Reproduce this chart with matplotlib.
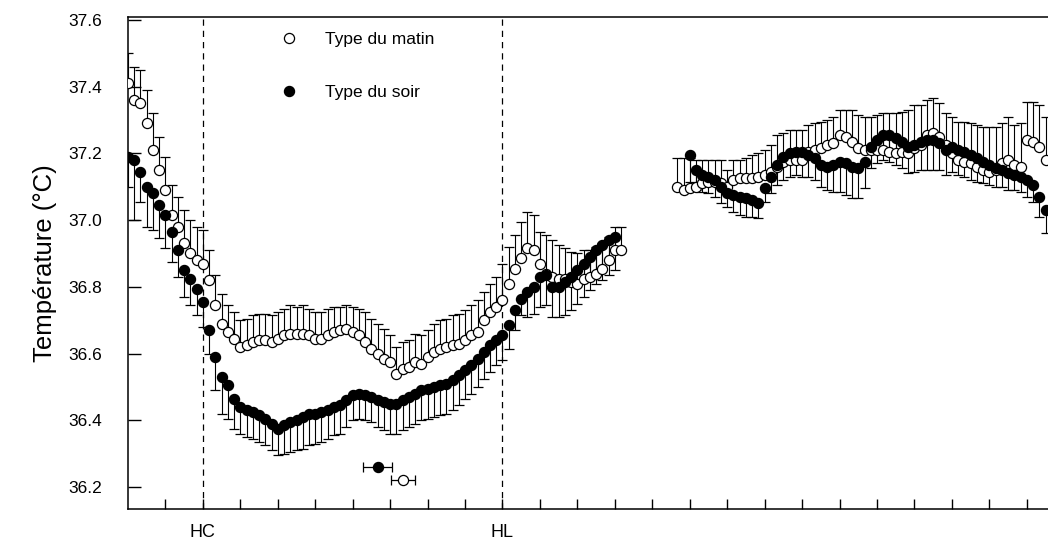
import numpy as np
import matplotlib.pyplot as plt
from matplotlib.lines import Line2D

# ==============================================================================
# DATA (10-min samples, hours from start of record)
# ==============================================================================
STEP_H = 1 / 6.0

# Segment 1 : evening -> morning
matin_1_start = 0.0
matin_1 = [37.41, 37.36, 37.35, 37.29, 37.21, 37.15, 37.09, 37.015, 36.98, 36.93,
           36.90, 36.88, 36.87, 36.82, 36.745, 36.69, 36.665, 36.645, 36.62, 36.625,
           36.635, 36.64, 36.64, 36.635, 36.645, 36.655, 36.66, 36.66, 36.66, 36.655,
           36.645, 36.645, 36.655, 36.665, 36.67, 36.675, 36.665, 36.655, 36.635, 36.615,
           36.60, 36.585, 36.575, 36.54, 36.555, 36.56, 36.575, 36.57, 36.59, 36.605,
           36.615, 36.62, 36.625, 36.63, 36.64, 36.655, 36.665, 36.70, 36.725, 36.74,
           36.76, 36.81, 36.855, 36.885, 36.915, 36.91, 36.87, 36.84, 36.83, 36.825,
           36.825, 36.815, 36.81, 36.825, 36.83, 36.84, 36.855, 36.88, 36.91, 36.91]
matin_1_err = [0.09, 0.10, 0.10, 0.10, 0.11, 0.10, 0.10, 0.09, 0.09, 0.10,
               0.10, 0.10, 0.10, 0.09, 0.09, 0.09, 0.08, 0.08, 0.08, 0.08,
               0.08, 0.08, 0.08, 0.08, 0.08, 0.08, 0.085, 0.08, 0.085, 0.08,
               0.08, 0.08, 0.08, 0.075, 0.07, 0.07, 0.075, 0.08, 0.09, 0.09,
               0.09, 0.09, 0.08, 0.08, 0.08, 0.08, 0.085, 0.085, 0.08, 0.085,
               0.085, 0.085, 0.09, 0.09, 0.09, 0.09, 0.095, 0.085, 0.085, 0.09,
               0.11, 0.11, 0.10, 0.11, 0.11, 0.105, 0.095, 0.115, 0.11, 0.10,
               0.09, 0.09, 0.09, 0.085, 0.08, 0.08, 0.075, 0.07, 0.07, 0.07]

soir_1_start = 0.0
soir_1 = [37.19, 37.18, 37.145, 37.10, 37.08, 37.045, 37.015, 36.965, 36.91, 36.85,
          36.825, 36.795, 36.755, 36.67, 36.59, 36.53, 36.505, 36.465, 36.44, 36.43,
          36.425, 36.415, 36.405, 36.39, 36.375, 36.385, 36.395, 36.40, 36.41, 36.42,
          36.42, 36.425, 36.43, 36.44, 36.445, 36.46, 36.475, 36.48, 36.475, 36.47,
          36.46, 36.455, 36.45, 36.45, 36.46, 36.47, 36.48, 36.49, 36.495, 36.50,
          36.505, 36.51, 36.52, 36.535, 36.55, 36.565, 36.585, 36.605, 36.625, 36.64,
          36.655, 36.685, 36.73, 36.765, 36.785, 36.80, 36.83, 36.835, 36.80, 36.80,
          36.815, 36.83, 36.85, 36.87, 36.89, 36.91, 36.925, 36.94, 36.95]
soir_1_err = [0.09, 0.18, 0.09, 0.12, 0.11, 0.10, 0.10, 0.09, 0.08, 0.08,
              0.08, 0.08, 0.075, 0.07, 0.10, 0.11, 0.10, 0.09, 0.08, 0.08,
              0.08, 0.08, 0.08, 0.08, 0.08, 0.085, 0.09, 0.09, 0.095, 0.095,
              0.09, 0.09, 0.085, 0.085, 0.085, 0.08, 0.075, 0.075, 0.075, 0.075,
              0.08, 0.085, 0.09, 0.09, 0.09, 0.09, 0.09, 0.09, 0.09, 0.09,
              0.09, 0.09, 0.09, 0.09, 0.085, 0.085, 0.085, 0.08, 0.08, 0.075,
              0.075, 0.07, 0.06, 0.05, 0.075, 0.08, 0.09, 0.09, 0.09, 0.09,
              0.10, 0.10, 0.10, 0.10, 0.10, 0.10, 0.105, 0.105, 0.10]

# Segment 2 : afternoon
matin_2_start = 88 * STEP_H
matin_2 = [37.10, 37.09, 37.095, 37.10, 37.11, 37.115, 37.115, 37.11, 37.10, 37.12,
           37.125, 37.125, 37.125, 37.13, 37.135, 37.145, 37.16, 37.175, 37.18, 37.18,
           37.18, 37.205, 37.21, 37.215, 37.225, 37.23, 37.255, 37.25, 37.235, 37.215,
           37.21, 37.21, 37.21, 37.21, 37.205, 37.20, 37.205, 37.20, 37.215, 37.225,
           37.255, 37.26, 37.25, 37.225, 37.20, 37.18, 37.175, 37.17, 37.16, 37.15,
           37.145, 37.15, 37.17, 37.18, 37.165, 37.16, 37.24, 37.235, 37.22, 37.18]
matin_2_err = [0.085, 0.095, 0.09, 0.08, 0.07, 0.065, 0.065, 0.07, 0.05, 0.06,
               0.055, 0.06, 0.07, 0.07, 0.075, 0.08, 0.095, 0.085, 0.09, 0.09,
               0.09, 0.08, 0.08, 0.08, 0.075, 0.08, 0.075, 0.08, 0.095, 0.10,
               0.10, 0.10, 0.105, 0.11, 0.115, 0.12, 0.12, 0.13, 0.13, 0.12,
               0.105, 0.105, 0.10, 0.095, 0.11, 0.115, 0.12, 0.12, 0.125, 0.13,
               0.135, 0.13, 0.12, 0.13, 0.12, 0.13, 0.115, 0.12, 0.125, 0.13]

soir_2_start = 90 * STEP_H
soir_2 = [37.195, 37.15, 37.135, 37.13, 37.12, 37.10, 37.08, 37.075, 37.07, 37.065,
          37.06, 37.05, 37.095, 37.13, 37.165, 37.19, 37.20, 37.205, 37.205, 37.195,
          37.185, 37.165, 37.16, 37.165, 37.175, 37.17, 37.16, 37.155, 37.175, 37.22,
          37.24, 37.255, 37.255, 37.245, 37.235, 37.22, 37.225, 37.235, 37.24, 37.24,
          37.23, 37.21, 37.22, 37.21, 37.205, 37.195, 37.185, 37.175, 37.165, 37.155,
          37.15, 37.14, 37.135, 37.13, 37.12, 37.105, 37.07, 37.03]
soir_2_err = [0.08, 0.06, 0.05, 0.05, 0.05, 0.05, 0.04, 0.05, 0.055, 0.055,
              0.05, 0.045, 0.04, 0.05, 0.06, 0.07, 0.07, 0.07, 0.075, 0.065,
              0.065, 0.065, 0.07, 0.08, 0.09, 0.095, 0.095, 0.09, 0.08, 0.065,
              0.07, 0.075, 0.08, 0.08, 0.08, 0.08, 0.08, 0.085, 0.09, 0.09,
              0.08, 0.075, 0.075, 0.075, 0.075, 0.075, 0.07, 0.065, 0.06, 0.055,
              0.05, 0.05, 0.045, 0.045, 0.05, 0.05, 0.06, 0.07]

# Mean time of minimum temperature (h, degC, +/- h)
nadir_soir = (6.67, 36.26, 0.39)
nadir_matin = (7.34, 36.22, 0.33)

HC_TIME = 2
HL_TIME = 10
tick_hours = list(range(1, 25))
tick_names = {HC_TIME: 'HC', HL_TIME: 'HL'}

# ==============================================================================
# PLOT
# ==============================================================================
plt.rcParams['font.family'] = ['Liberation Sans', 'DejaVu Sans']

W, H = 1048, 541
fig = plt.figure(figsize=(W / 100, H / 100), dpi=100)
ax = fig.add_axes([128 / W, (H - 509) / H, (W - 128) / W, 492 / H])

MS = 7.3
CAP_MS = 7.8


def times(start, values):
    return start + np.arange(len(values)) * STEP_H


def draw_series(start, values, err, up, filled):
    t = times(start, values)
    v = np.asarray(values)
    e = np.asarray(err)
    end = v + e if up else v - e
    ax.vlines(t, v, end, colors='black', lw=0.8, zorder=2)
    ax.plot(t, end, ls='none', marker='_', ms=CAP_MS, mew=0.9, color='black', zorder=2)
    ax.plot(t, v, ls='none', marker='o', ms=MS, mew=0.9,
            mfc='black' if filled else 'white', mec='black',
            zorder=4 if filled else 3)


draw_series(matin_1_start, matin_1, matin_1_err, True, False)
draw_series(matin_2_start, matin_2, matin_2_err, True, False)
draw_series(soir_1_start, soir_1, soir_1_err, False, True)
draw_series(soir_2_start, soir_2, soir_2_err, False, True)

# nadir markers with horizontal error bars
for (tx, ty, ex), fc in [(nadir_soir, 'black'), (nadir_matin, 'white')]:
    ax.errorbar(tx, ty, xerr=ex, fmt='o', ms=MS, mfc=fc, mec='black', mew=0.9,
                ecolor='black', elinewidth=0.9, capsize=3.4, capthick=0.9, zorder=5)

# sleep markers
for hx in (HC_TIME, HL_TIME):
    ax.axvline(hx, color='black', lw=0.9, ls=(0, (5, 4)), zorder=1)

ax.set_xlim(0, 920 / 37.45)
ax.set_ylim(36.134, 37.609)

ax.set_xticks(tick_hours)
ax.set_xticklabels([tick_names.get(h, '') for h in tick_hours], fontsize=13)
ax.set_yticks(np.arange(36.2, 37.61, 0.2))
ax.set_yticklabels([f"{v:.1f}" for v in np.arange(36.2, 37.61, 0.2)], fontsize=12.5)
ax.tick_params(axis='x', direction='in', length=7.5, width=1.0, pad=11)
ax.tick_params(axis='y', direction='in', length=9, width=1.0, pad=19)

for side in ('left', 'bottom', 'top'):
    ax.spines[side].set_linewidth(1.1)
ax.spines['right'].set_visible(False)

ax.set_ylabel('Température (°C)', fontsize=18.5)
ax.yaxis.set_label_coords(-0.077, 0.5)

handles = [
    Line2D([], [], ls='none', marker='o', ms=MS, mfc='white', mec='black', mew=0.9),
    Line2D([], [], ls='none', marker='o', ms=MS, mfc='black', mec='black', mew=0.9),
]
ax.legend(handles, ['Type du matin', 'Type du soir'], loc='upper left',
          bbox_to_anchor=((280 - 128) / 920, (509 - 32) / 492),
          frameon=False, fontsize=12.5, handlelength=1.0, handletextpad=1.6,
          labelspacing=2.15, borderpad=0, borderaxespad=0)

plt.savefig('out.png', dpi=100)
plt.close()
